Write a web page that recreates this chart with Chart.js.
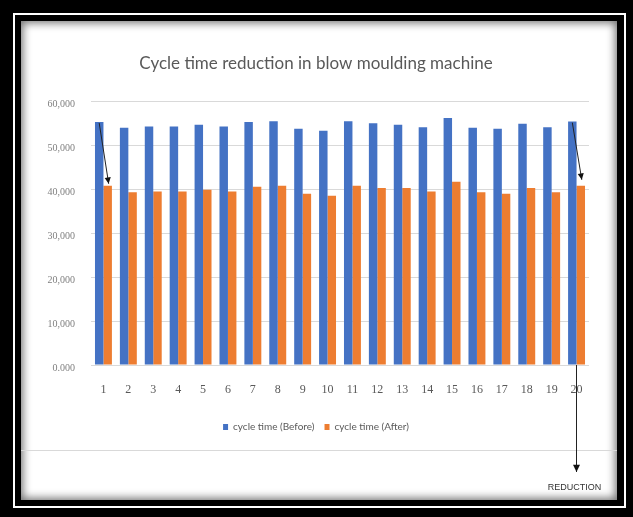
<!DOCTYPE html>
<html>
<head>
<meta charset="utf-8">
<script src="https://cdn.jsdelivr.net/npm/chart.js@4.4.1/dist/chart.umd.min.js"></script>
<style>
  html, body { margin: 0; padding: 0; }
  body { width: 633px; height: 517px; background: #000; position: relative; overflow: hidden; }
  #ring { position: absolute; left: 13px; top: 13px; width: 609px; height: 491px; border: 2px solid #fff; }
  #panel { position: absolute; left: 21px; top: 21px; width: 596px; height: 479px; background: #fff;
           box-shadow: inset 0 0 9px 2px rgba(0,0,0,0.55); }
  #panel canvas { position: absolute; left: 0; top: 0; }
</style>
</head>
<body>
<div id="ring"></div>
<div id="panel"><canvas id="c" width="596" height="479"></canvas></div>
<script>
const categories = ['1','2','3','4','5','6','7','8','9','10','11','12','13','14','15','16','17','18','19','20'];
const cycleBefore = [55.3, 54.0, 54.3, 54.3, 54.7, 54.3, 55.3, 55.5, 53.8, 53.3, 55.5, 55.0, 54.7, 54.1, 56.2, 54.0, 53.8, 54.9, 54.1, 55.4];
const cycleAfter  = [40.8, 39.3, 39.5, 39.5, 39.9, 39.5, 40.6, 40.8, 39.0, 38.5, 40.8, 40.3, 40.3, 39.5, 41.7, 39.3, 39.0, 40.3, 39.3, 40.8];
const yTickLabels = ['0.000', '10,000', '20,000', '30,000', '40,000', '50,000', '60,000'];
const seriesNames = ['cycle time (Before)', 'cycle time (After)'];
const titleText = 'Cycle time reduction in blow moulding machine';
const noteText = 'REDUCTION';

function arrow(ctx, x1, y1, x2, y2, head) {
  ctx.beginPath();
  ctx.moveTo(x1, y1);
  ctx.lineTo(x2, y2);
  ctx.stroke();
  const ang = Math.atan2(y2 - y1, x2 - x1);
  ctx.beginPath();
  ctx.moveTo(x2, y2);
  ctx.lineTo(x2 - head * Math.cos(ang - 0.45), y2 - head * Math.sin(ang - 0.45));
  ctx.lineTo(x2 - head * Math.cos(ang + 0.45), y2 - head * Math.sin(ang + 0.45));
  ctx.closePath();
  ctx.fill();
}

const annot = {
  id: 'annot',
  beforeDraw(chart) {
    const ctx = chart.ctx;
    ctx.save();
    ctx.strokeStyle = '#d9d9d9';
    ctx.lineWidth = 1;
    ctx.beginPath();
    ctx.moveTo(0, chart.height - 49.5);
    ctx.lineTo(chart.width, chart.height - 49.5);
    ctx.stroke();
    ctx.restore();
  },
  afterDatasetsDraw(chart) {
    const ctx = chart.ctx;
    const b = chart.getDatasetMeta(0).data;
    const a = chart.getDatasetMeta(1).data;
    ctx.save();
    ctx.strokeStyle = '#222';
    ctx.fillStyle = '#111';
    ctx.lineWidth = 1;
    const last = b.length - 1;
    arrow(ctx, b[0].x, b[0].y + 1, a[0].x + 1, a[0].y - 2, 7);
    arrow(ctx, b[last].x, b[last].y + 1, a[last].x + 1, a[last].y - 6, 7);
    const vx = Math.round(chart.scales.x.getPixelForValue(last)) - 0.5;
    arrow(ctx, vx, chart.chartArea.bottom, vx, chart.height - 28, 8);
    ctx.fillStyle = '#333';
    ctx.font = '9px "Liberation Sans Narrow", "Liberation Sans", sans-serif';
    ctx.textAlign = 'center';
    ctx.textBaseline = 'middle';
    ctx.fillText(noteText, vx - 2, chart.height - 12);
    ctx.restore();
  }
};

new Chart(document.getElementById('c'), {
  type: 'bar',
  data: {
    labels: categories,
    datasets: [
      { label: seriesNames[0], data: cycleBefore, backgroundColor: '#4472C4', borderWidth: 0 },
      { label: seriesNames[1], data: cycleAfter, backgroundColor: '#ED7D31', borderWidth: 0 }
    ]
  },
  options: {
    responsive: false,
    animation: false,
    devicePixelRatio: 1,
    datasets: { bar: { categoryPercentage: 0.68, barPercentage: 1.0 } },
    layout: { padding: { left: 22, right: 28, top: 0, bottom: 58 } },
    plugins: {
      title: {
        display: true,
        text: titleText,
        color: '#595959',
        font: { family: 'Lato', size: 17, weight: 'normal' },
        padding: { top: 32, bottom: 28 }
      },
      legend: {
        position: 'bottom',
        labels: {
          color: '#595959',
          font: { family: 'Lato', size: 10 },
          boxWidth: 5,
          boxHeight: 6,
          padding: 10
        }
      },
      tooltip: { enabled: false }
    },
    scales: {
      x: {
        grid: { display: false },
        border: { display: false },
        ticks: { color: '#595959', font: { family: 'Liberation Serif', size: 12 }, padding: 10, maxRotation: 0 },
        afterFit(s) { s.height = 47; }
      },
      y: {
        min: 0, max: 60,
        grid: { color: '#d9d9d9', drawTicks: false },
        border: { display: false },
        ticks: {
          stepSize: 10,
          padding: 16,
          labelOffset: 3,
          color: '#7f7f7f',
          font: { family: 'Liberation Sans Narrow', size: 10 },
          callback: (v) => yTickLabels[Math.round(v / 10)]
        },
        afterFit(s) { s.width = 48; }
      }
    }
  },
  plugins: [annot]
});
</script>
</body>
</html>
